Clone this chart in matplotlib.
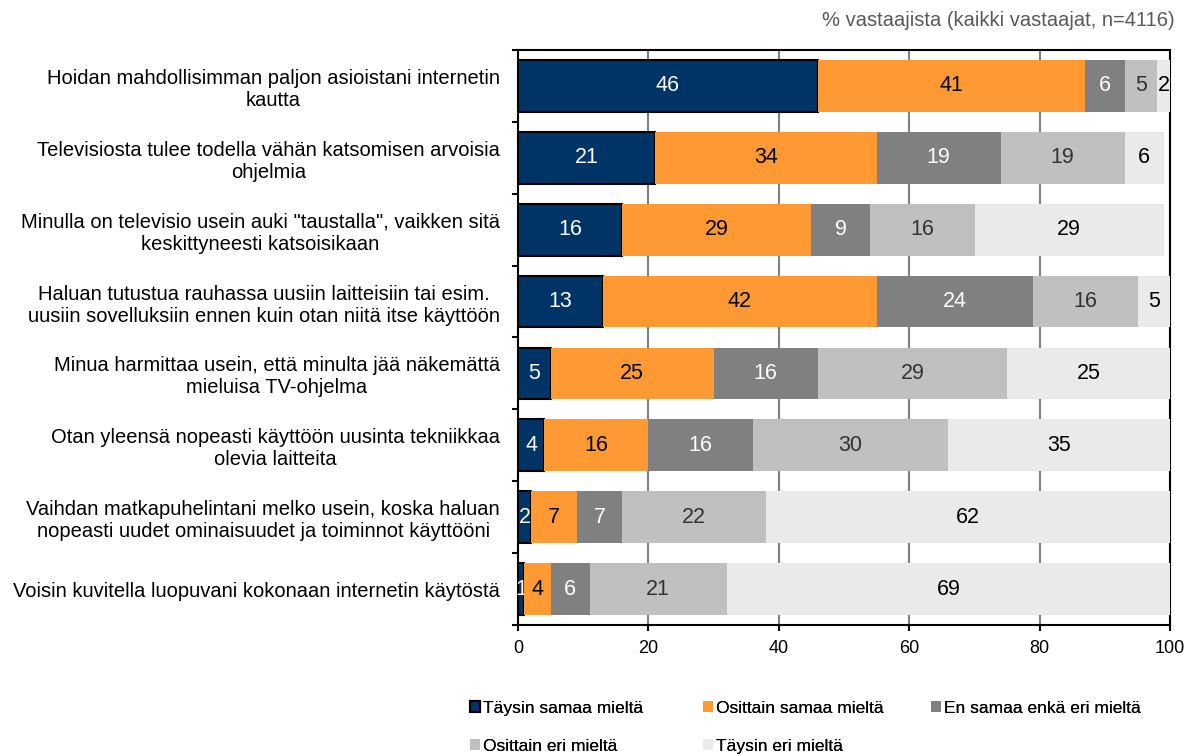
import matplotlib.pyplot as plt
import numpy as np

plt.rcParams['font.family'] = ['Liberation Sans', 'DejaVu Sans']

statements = [
    "Hoidan mahdollisimman paljon asioistani internetin\nkautta",
    "Televisiosta tulee todella vähän katsomisen arvoisia\nohjelmia",
    "Minulla on televisio usein auki \"taustalla\", vaikken sitä\nkeskittyneesti katsoisikaan",
    "Haluan tutustua rauhassa uusiin laitteisiin tai esim.\nuusiin sovelluksiin ennen kuin otan niitä itse käyttöön",
    "Minua harmittaa usein, että minulta jää näkemättä\nmieluisa TV-ohjelma",
    "Otan yleensä nopeasti käyttöön uusinta tekniikkaa\nolevia laitteita",
    "Vaihdan matkapuhelintani melko usein, koska haluan\nnopeasti uudet ominaisuudet ja toiminnot käyttööni",
    "Voisin kuvitella luopuvani kokonaan internetin käytöstä",
]

taysin_samaa = [46, 21, 16, 13, 5, 4, 2, 1]
osittain_samaa = [41, 34, 29, 42, 25, 16, 7, 4]
ei_samaa_eika_eri = [6, 19, 9, 24, 16, 16, 7, 6]
osittain_eri = [5, 19, 16, 16, 29, 30, 22, 21]
taysin_eri = [2, 6, 29, 5, 25, 35, 62, 69]

series = [taysin_samaa, osittain_samaa, ei_samaa_eika_eri, osittain_eri, taysin_eri]
names = ["Täysin samaa mieltä", "Osittain samaa mieltä", "En samaa enkä eri mieltä",
         "Osittain eri mieltä", "Täysin eri mieltä"]
colors = ['#003366', '#FF9933', '#808080', '#C0C0C0', '#EAEAEA']
text_colors = ['white', 'black', 'white', '#333333', 'black']

fig = plt.figure(figsize=(11.88, 7.55), dpi=100)
ax = fig.add_axes([0.436, 0.1722, 0.549, 0.7616])

y = np.arange(len(statements))
left = np.zeros(len(statements))
handles = []
for i, vals in enumerate(series):
    vals = np.array(vals)
    edge = 'black' if i == 0 else 'none'
    bars = ax.barh(y, vals, left=left, height=0.72, color=colors[i],
                   edgecolor=edge, linewidth=1.5 if i == 0 else 0, zorder=3,
                   label=names[i])
    handles.append(bars)
    ax.bar_label(bars, labels=[str(v) for v in vals], label_type='center',
                 color=text_colors[i], fontsize=15.5)
    left += vals

ax.set_xlim(0, 100)
ax.set_ylim(len(statements) - 0.5, -0.5)
ax.set_xticks([0, 20, 40, 60, 80, 100])
ax.tick_params(axis='x', labelsize=13, length=4, width=1.5, direction='out', pad=6.5)
ax.set_yticks(y)
ax.set_yticklabels(statements, fontsize=14.5, ha='right', multialignment='center')
ax.tick_params(axis='y', which='major', length=0, pad=13)
ax.set_yticks(np.arange(-0.5, len(statements)), minor=True)
ax.tick_params(axis='y', which='minor', length=4, width=1.5, direction='out')
ax.grid(axis='x', color='#808080', linewidth=1.5, zorder=0)
for s in ax.spines.values():
    s.set_color('black')
    s.set_linewidth(1.5)

fig.text(0.989, 0.9735, "% vastaajista (kaikki vastaajat, n=4116)", ha='right',
         va='center', fontsize=14.5, color='#595959')

col_x = [0.3955, 0.5915, 0.7835]
for j, x in enumerate(col_x):
    idx = [k for k in (j, j + 3) if k < len(names)]
    leg = fig.legend([handles[k] for k in idx], [names[k] for k in idx],
                     loc='upper left', bbox_to_anchor=(x, 0.072), frameon=False,
                     fontsize=12.5, handlelength=0.6, handleheight=0.6,
                     handletextpad=0.15, labelspacing=1.33, borderpad=0,
                     borderaxespad=0)
    fig.add_artist(leg)

fig.savefig('out.png', dpi=100)
